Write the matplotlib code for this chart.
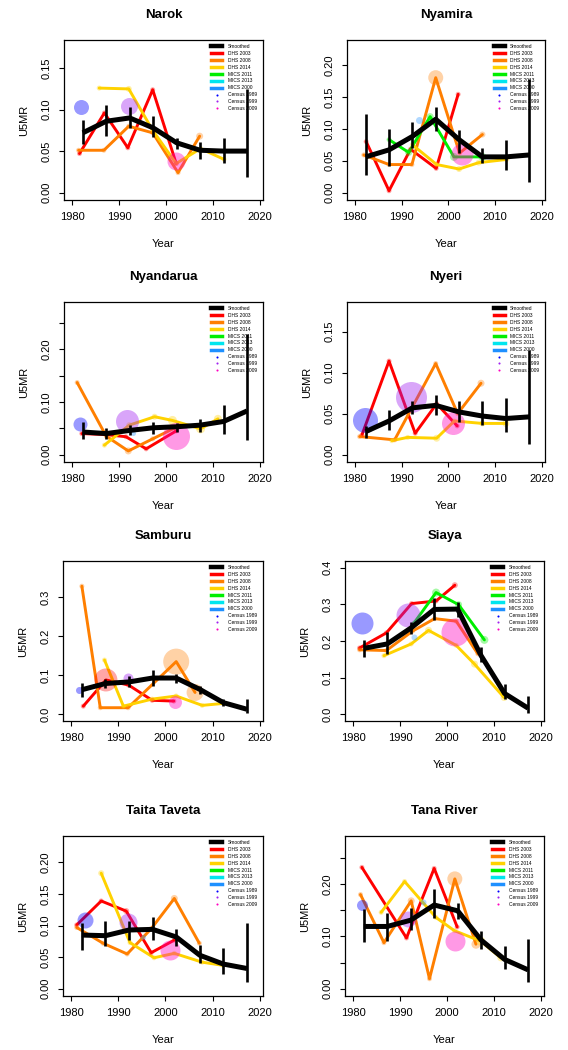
import matplotlib
matplotlib.use("Agg")
import matplotlib.pyplot as plt
from matplotlib.lines import Line2D

plt.rcParams['font.family'] = ['Liberation Sans', 'DejaVu Sans']

# ---- data ----
regions = ["Narok", "Nyamira", "Nyandarua", "Nyeri",
           "Samburu", "Siaya", "Taita Taveta", "Tana River"]

smooth_years = [1982.3, 1987.3, 1992.3, 1997.3, 2002.3, 2007.3, 2012.3, 2017.3]

smooth_est = {
    "Narok":        [0.072, 0.086, 0.090, 0.078, 0.060, 0.051, 0.050, 0.050],
    "Nyamira":      [0.056, 0.067, 0.088, 0.115, 0.083, 0.056, 0.056, 0.059],
    "Nyandarua":    [0.043, 0.040, 0.046, 0.051, 0.053, 0.056, 0.063, 0.083],
    "Nyeri":        [0.028, 0.041, 0.057, 0.060, 0.052, 0.047, 0.044, 0.046],
    "Samburu":      [0.063, 0.079, 0.083, 0.093, 0.093, 0.064, 0.030, 0.013],
    "Siaya":        [0.180, 0.192, 0.235, 0.286, 0.287, 0.160, 0.057, 0.017],
    "Taita Taveta": [0.085, 0.084, 0.093, 0.094, 0.082, 0.053, 0.039, 0.032],
    "Tana River":   [0.119, 0.119, 0.131, 0.160, 0.149, 0.093, 0.056, 0.036],
}
smooth_lo = {
    "Narok":        [0.059, 0.068, 0.078, 0.067, 0.053, 0.041, 0.036, 0.019],
    "Nyamira":      [0.027, 0.041, 0.070, 0.096, 0.062, 0.046, 0.036, 0.017],
    "Nyandarua":    [0.030, 0.029, 0.037, 0.040, 0.043, 0.043, 0.040, 0.027],
    "Nyeri":        [0.020, 0.030, 0.049, 0.048, 0.040, 0.036, 0.027, 0.013],
    "Samburu":      [0.045, 0.067, 0.069, 0.073, 0.079, 0.053, 0.021, 0.004],
    "Siaya":        [0.157, 0.165, 0.220, 0.256, 0.265, 0.142, 0.041, 0.005],
    "Taita Taveta": [0.062, 0.068, 0.077, 0.077, 0.068, 0.041, 0.024, 0.011],
    "Tana River":   [0.090, 0.091, 0.113, 0.136, 0.133, 0.075, 0.037, 0.013],
}
smooth_hi = {
    "Narok":        [0.087, 0.105, 0.103, 0.092, 0.066, 0.061, 0.066, 0.125],
    "Nyamira":      [0.123, 0.099, 0.110, 0.134, 0.098, 0.070, 0.082, 0.178],
    "Nyandarua":    [0.062, 0.051, 0.056, 0.062, 0.060, 0.068, 0.094, 0.230],
    "Nyeri":        [0.035, 0.054, 0.065, 0.073, 0.065, 0.065, 0.069, 0.127],
    "Samburu":      [0.079, 0.090, 0.099, 0.114, 0.103, 0.073, 0.039, 0.039],
    "Siaya":        [0.203, 0.224, 0.252, 0.316, 0.305, 0.183, 0.082, 0.050],
    "Taita Taveta": [0.104, 0.107, 0.107, 0.114, 0.095, 0.069, 0.065, 0.104],
    "Tana River":   [0.153, 0.144, 0.155, 0.190, 0.164, 0.111, 0.082, 0.095],
}

# survey estimates: (years, U5MR, point size in px)
surveys = {
    "Narok": {
        "DHS 2003": ([1981.6, 1986.9, 1991.9, 1997.2, 2002.2],
                     [0.047, 0.096, 0.054, 0.124, 0.035], [5, 5, 5, 5, 5]),
        "DHS 2008": ([1981.4, 1986.8, 1992.1, 1997.2, 2002.6, 2007.2],
                     [0.051, 0.051, 0.080, 0.072, 0.024, 0.068], [5, 5, 5, 5, 5, 7]),
        "DHS 2014": ([1985.8, 1992.1, 1997.2, 2002.2, 2007.4, 2012.4],
                     [0.126, 0.125, 0.075, 0.035, 0.053, 0.040], [5, 6, 5, 5, 5, 5]),
    },
    "Nyamira": {
        "DHS 2003": ([1982.4, 1987.3, 1991.9, 1997.4, 2002.1],
                     [0.080, 0.003, 0.068, 0.038, 0.154], [5, 5, 5, 5, 5]),
        "DHS 2008": ([1981.9, 1987.3, 1992.2, 1997.3, 2002.4, 2007.3],
                     [0.059, 0.044, 0.044, 0.180, 0.062, 0.091], [5, 5, 5, 15, 5, 6]),
        "DHS 2014": ([1992.3, 1997.5, 2002.3, 2006.5, 2012.5],
                     [0.075, 0.044, 0.037, 0.047, 0.052], [5, 5, 6, 6, 5]),
        "MICS 2011": ([1987.3, 1991.5, 1996.1, 2001.2, 2007.3],
                      [0.083, 0.063, 0.119, 0.056, 0.056], [5, 7, 7, 8, 8]),
        "MICS 2000": ([1993.8], [0.113], [7]),
    },
    "Nyandarua": {
        "DHS 2003": ([1982.1, 1987.3, 1991.5, 1995.8, 2002.2],
                     [0.040, 0.038, 0.034, 0.011, 0.045], [5, 5, 5, 5, 5]),
        "DHS 2008": ([1981.1, 1987.3, 1992.0, 1997.2, 2002.2],
                     [0.137, 0.035, 0.007, 0.030, 0.052], [5, 5, 7, 5, 5]),
        "DHS 2014": ([1986.9, 1992.2, 1997.6, 2001.4, 2007.4, 2011.1],
                     [0.018, 0.056, 0.072, 0.065, 0.049, 0.068], [5, 6, 6, 9, 9, 8]),
        "MICS 2000": ([1993.0], [0.041], [5]),
    },
    "Nyeri": {
        "DHS 2003": ([1981.5, 1987.3, 1992.9, 1997.5, 2001.9],
                     [0.024, 0.114, 0.026, 0.062, 0.035], [5, 5, 5, 5, 5]),
        "DHS 2008": ([1981.0, 1988.5, 1997.3, 2002.0, 2007.0],
                     [0.022, 0.018, 0.111, 0.050, 0.087], [5, 5, 5, 5, 7]),
        "DHS 2014": ([1987.9, 1991.3, 1997.5, 2001.3, 2007.3, 2012.3],
                     [0.017, 0.021, 0.020, 0.041, 0.038, 0.038], [5, 5, 7, 5, 6, 7]),
    },
    "Samburu": {
        "DHS 2003": ([1982.6, 1987.4, 1992.2, 1997.2, 2001.8],
                     [0.021, 0.088, 0.075, 0.036, 0.034], [5, 23, 5, 5, 5]),
        "DHS 2008": ([1982.3, 1986.2, 1992.1, 2002.3, 2006.3],
                     [0.328, 0.017, 0.017, 0.135, 0.056], [5, 5, 5, 26, 17]),
        "DHS 2014": ([1987.1, 1991.1, 1997.2, 2002.3, 2007.8, 2012.3],
                     [0.139, 0.021, 0.039, 0.047, 0.023, 0.028], [5, 5, 5, 5, 5, 5]),
    },
    "Siaya": {
        "DHS 2003": ([1981.4, 1987.1, 1992.5, 1997.7, 2001.7],
                     [0.181, 0.222, 0.302, 0.309, 0.352], [5, 5, 5, 5, 6]),
        "DHS 2008": ([1981.4, 1987.1, 1992.7, 1997.4, 2002.0, 2006.6],
                     [0.176, 0.174, 0.227, 0.261, 0.254, 0.165], [5, 5, 5, 5, 5, 5]),
        "DHS 2014": ([1986.6, 1992.4, 1996.1, 2002.0, 2005.9, 2012.2],
                     [0.160, 0.192, 0.229, 0.188, 0.137, 0.046], [5, 5, 7, 5, 7, 7]),
        "MICS 2011": ([1993.0, 1997.7, 2002.5, 2008.0],
                      [0.249, 0.332, 0.299, 0.203], [5, 8, 7, 8]),
        "MICS 2000": ([1992.9], [0.210], [6]),
    },
    "Taita Taveta": {
        "DHS 2003": ([1981.2, 1986.4, 1991.7, 1997.0, 2001.9],
                     [0.101, 0.139, 0.123, 0.057, 0.077], [5, 5, 6, 5, 5]),
        "DHS 2008": ([1981.2, 1986.8, 1991.9, 1997.0, 2001.9, 2007.2],
                     [0.097, 0.072, 0.055, 0.095, 0.143, 0.072], [5, 5, 5, 5, 7, 5]),
        "DHS 2014": ([1986.4, 1992.5, 1997.6, 2001.9, 2007.8, 2012.2],
                     [0.183, 0.073, 0.049, 0.056, 0.042, 0.037], [6, 5, 5, 5, 5, 5]),
        "MICS 2000": ([1995.3], [0.082], [5]),
    },
    "Tana River": {
        "DHS 2003": ([1981.9, 1991.4, 1997.3, 2002.2],
                     [0.232, 0.097, 0.230, 0.118], [5, 5, 5, 5]),
        "DHS 2008": ([1981.6, 1986.6, 1992.4, 1996.3, 2001.7, 2006.2],
                     [0.180, 0.088, 0.168, 0.019, 0.210, 0.085], [5, 5, 7, 5, 15, 9]),
        "DHS 2014": ([1986.0, 1991.0, 1997.7, 2001.6, 2007.2, 2011.5],
                     [0.146, 0.205, 0.136, 0.111, 0.091, 0.059], [5, 5, 5, 5, 9, 7]),
        "MICS 2000": ([1995.0], [0.166], [6]),
    },
}

# census estimates: (year, U5MR, circle size in px)
census = {
    "Narok":        {"Census 1989": (1981.9, 0.103, 15), "Census 1999": (1992.1, 0.104, 17),
                     "Census 2009": (2002.1, 0.038, 18)},
    "Nyamira":      {"Census 2009": (2002.9, 0.060, 22)},
    "Nyandarua":    {"Census 1989": (1981.8, 0.059, 14), "Census 1999": (1991.7, 0.064, 23),
                     "Census 2009": (2002.2, 0.035, 27)},
    "Nyeri":        {"Census 1989": (1982.1, 0.042, 25), "Census 1999": (1991.9, 0.070, 31),
                     "Census 2009": (2000.9, 0.038, 23)},
    "Samburu":      {"Census 1989": (1981.7, 0.063, 7), "Census 1999": (1992.1, 0.094, 10),
                     "Census 2009": (2002.0, 0.032, 13)},
    "Siaya":        {"Census 1989": (1981.9, 0.250, 22), "Census 1999": (1991.8, 0.270, 24),
                     "Census 2009": (2001.8, 0.224, 28)},
    "Taita Taveta": {"Census 1989": (1983.0, 0.109, 16), "Census 1999": (1992.1, 0.105, 18),
                     "Census 2009": (2000.9, 0.061, 20)},
    "Tana River":   {"Census 1989": (1981.9, 0.160, 11), "Census 1999": (1991.7, 0.133, 16),
                     "Census 2009": (2001.8, 0.091, 20)},
}

line_sources = ["DHS 2003", "DHS 2008", "DHS 2014", "MICS 2011", "MICS 2013", "MICS 2000"]
census_sources = ["Census 1989", "Census 1999", "Census 2009"]
colors = {
    "DHS 2003": "#FF0000", "DHS 2008": "#FF7F00", "DHS 2014": "#FFD200",
    "MICS 2011": "#00EE00", "MICS 2013": "#00E5EE", "MICS 2000": "#1E90FF",
    "Census 1989": "#0000FF", "Census 1999": "#A020F0", "Census 2009": "#FF00C0",
}

# ---- layout (pixel boxes: left, top, right, bottom) ----
W, H = 568, 1050
boxes = [
    (64, 40, 263, 200), (347, 40, 545, 200),
    (64, 302, 263, 462), (347, 302, 545, 462),
    (63, 561, 263, 721), (345, 561, 544, 721),
    (63, 836, 263, 996), (345, 836, 544, 996),
]
ylims = {
    "Narok": (-0.009, 0.184), "Nyamira": (-0.0115, 0.239),
    "Nyandarua": (-0.014, 0.29), "Nyeri": (-0.009, 0.186),
    "Samburu": (-0.017, 0.3925), "Siaya": (-0.018, 0.418),
    "Taita Taveta": (-0.0116, 0.242), "Tana River": (-0.014, 0.292),
}
yticks = {
    "Narok": ([0, 0.05, 0.10, 0.15], ["0.00", "0.05", "0.10", "0.15"]),
    "Nyamira": ([0, 0.05, 0.10, 0.15, 0.20], ["0.00", "0.05", "0.10", "0.15", "0.20"]),
    "Nyandarua": ([0, 0.05, 0.10, 0.15, 0.20, 0.25], ["0.00", "", "0.10", "", "0.20", ""]),
    "Nyeri": ([0, 0.05, 0.10, 0.15], ["0.00", "0.05", "0.10", "0.15"]),
    "Samburu": ([0, 0.1, 0.2, 0.3], ["0.0", "0.1", "0.2", "0.3"]),
    "Siaya": ([0, 0.1, 0.2, 0.3, 0.4], ["0.0", "0.1", "0.2", "0.3", "0.4"]),
    "Taita Taveta": ([0, 0.05, 0.10, 0.15, 0.20], ["0.00", "0.05", "0.10", "0.15", "0.20"]),
    "Tana River": ([0, 0.05, 0.10, 0.15, 0.20, 0.25], ["0.00", "", "0.10", "", "0.20", ""]),
}


def px2(d):
    # circle diameter in px -> scatter size (pt^2) at 100 dpi
    return (d * 0.72) ** 2


fig = plt.figure(figsize=(W / 100, H / 100), dpi=100)

legend_handles = [Line2D([], [], color="black", lw=3.2)]
legend_handles += [Line2D([], [], color=colors[s], lw=2.5) for s in line_sources]
legend_handles += [Line2D([], [], color=colors[s], ls="", marker="o", markersize=1.5,
                          markeredgewidth=0) for s in census_sources]
legend_labels = ["Smoothed"] + line_sources + census_sources

for reg, (l, t, r, b) in zip(regions, boxes):
    ax = fig.add_axes([l / W, 1 - b / H, (r - l) / W, (b - t) / H])

    for src, (xs, ys, ds) in surveys[reg].items():
        c = colors[src]
        if len(xs) > 1:
            ax.plot(xs, ys, color=c, lw=2.1, solid_capstyle="round",
                    solid_joinstyle="round", zorder=2)
        ax.scatter(xs, ys, s=[px2(d) for d in ds], color=c, alpha=0.35,
                   linewidths=0, zorder=3)

    for src, (x, y, d) in census[reg].items():
        ax.scatter([x], [y], s=px2(d), color=colors[src], alpha=0.4,
                   linewidths=0, zorder=4)

    ax.plot(smooth_years, smooth_est[reg], color="black", lw=3.6,
            solid_capstyle="butt", zorder=5)
    ax.vlines(smooth_years, smooth_lo[reg], smooth_hi[reg], color="black",
              lw=1.9, zorder=6)

    ax.set_xlim(1978.3, 2020.7)
    ax.set_ylim(*ylims[reg])
    ax.set_xticks([1980, 1990, 2000, 2010, 2020])
    ax.set_xticklabels(["1980", "1990", "2000", "2010", "2020"])
    tk, tl = yticks[reg]
    ax.set_yticks(tk)
    ax.set_yticklabels(tl, rotation=90, va="center")
    ax.tick_params(length=3.8, width=0.8, labelsize=8, pad=5, direction="out")
    for sp in ax.spines.values():
        sp.set_linewidth(0.9)

    ax.set_title(reg, fontsize=9.5, fontweight="bold", pad=16)
    ax.set_xlabel("Year", fontsize=8, labelpad=12)
    ax.set_ylabel("U5MR", fontsize=8, labelpad=9)

    ax.legend(legend_handles, legend_labels, loc="upper left",
              bbox_to_anchor=(0.74, 0.975), frameon=False, fontsize=3.5,
              borderpad=0, borderaxespad=0, handlelength=2.3,
              handletextpad=1.1, labelspacing=0.39)

fig.savefig("out.png", dpi=100)
